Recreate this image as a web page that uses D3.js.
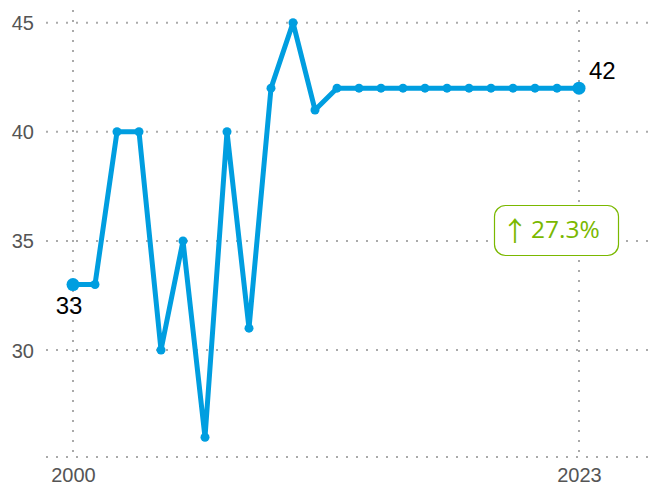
<!DOCTYPE html>
<html>
<head>
<meta charset="utf-8">
<script src="https://cdn.jsdelivr.net/npm/d3@7"></script>
<style>
  html, body { margin: 0; padding: 0; background: #fff; }
  svg { display: block; }
</style>
</head>
<body>
<svg id="chart" width="653" height="493"></svg>
<script>
// Yearly values, 2000–2023
const years = d3.range(2000, 2024);
const values = [33, 33, 40, 40, 30, 35, 26, 40, 31, 42, 45, 41, 42, 42, 42, 42, 42, 42, 42, 42, 42, 42, 42, 42];
const yTicks = [30, 35, 40, 45];
const xTicks = [2000, 2023];

const svg = d3.select("#chart");
const W = 653, H = 493;
const gridLeft = 46, gridTop = 10, plotBottom = 457;

const x = d3.scaleLinear().domain([2000, 2023]).range([73, 579]);
const y = d3.scaleLinear().domain([30, 45]).range([350, 22.7]);

const gridColor = "#aaaaaa";
const lineColor = "#009ee0";
const green = "#7ab800";

// dotted horizontal grid lines + baseline
const grid = svg.append("g");
[...yTicks.map(t => y(t)), plotBottom].forEach(py => {
  grid.append("line")
    .attr("x1", gridLeft).attr("x2", W)
    .attr("y1", py).attr("y2", py)
    .attr("stroke", gridColor).attr("stroke-width", 2)
    .attr("stroke-dasharray", "2,8");
});
// dotted vertical grid lines at first and last year
xTicks.forEach(t => {
  grid.append("line")
    .attr("x1", x(t)).attr("x2", x(t))
    .attr("y1", gridTop).attr("y2", plotBottom)
    .attr("stroke", gridColor).attr("stroke-width", 2)
    .attr("stroke-dasharray", "2,8");
});

// y-axis labels
const yAxis = d3.axisLeft(y).tickValues(yTicks).tickSize(0).tickPadding(0);
svg.append("g")
  .attr("transform", "translate(34,0)")
  .call(yAxis)
  .call(g => g.select(".domain").remove())
  .call(g => g.selectAll("text")
    .attr("font-family", "Liberation Sans, Arial, sans-serif")
    .attr("font-size", 20)
    .attr("fill", "#555")
    .attr("dy", "0.35em"));

// x-axis labels
const xAxis = d3.axisBottom(x).tickValues(xTicks).tickFormat(d3.format("d")).tickSize(0).tickPadding(0);
svg.append("g")
  .attr("transform", "translate(0,468)")
  .call(xAxis)
  .call(g => g.select(".domain").remove())
  .call(g => g.selectAll("text")
    .attr("font-family", "Liberation Sans, Arial, sans-serif")
    .attr("font-size", 20)
    .attr("fill", "#555")
    .attr("dy", "0.71em"));

// series line
const data = years.map((yr, i) => ({ yr, v: values[i] }));
svg.append("path")
  .datum(data)
  .attr("fill", "none")
  .attr("stroke", lineColor)
  .attr("stroke-width", 5)
  .attr("stroke-linejoin", "round")
  .attr("d", d3.line().x(d => x(d.yr)).y(d => y(d.v)));

// markers, larger at both ends
svg.append("g").selectAll("circle")
  .data(data)
  .join("circle")
  .attr("cx", d => x(d.yr))
  .attr("cy", d => y(d.v))
  .attr("r", (d, i) => (i === 0 || i === data.length - 1) ? 6.5 : 4.5)
  .attr("fill", lineColor);

// end value labels
const first = data[0], last = data[data.length - 1];
svg.append("text")
  .attr("x", x(first.yr) - 4).attr("y", y(first.v) + 29)
  .attr("text-anchor", "middle")
  .attr("font-family", "Liberation Sans, Arial, sans-serif")
  .attr("font-size", 24).attr("fill", "#000")
  .text(first.v);
svg.append("text")
  .attr("x", x(last.yr) + 10).attr("y", y(last.v) - 9)
  .attr("text-anchor", "start")
  .attr("font-family", "Liberation Sans, Arial, sans-serif")
  .attr("font-size", 24).attr("fill", "#000")
  .text(last.v);

// change badge
const change = (last.v - first.v) / first.v * 100;
const badge = svg.append("g");
badge.append("rect")
  .attr("x", 494.5).attr("y", 205.5)
  .attr("width", 124).attr("height", 50)
  .attr("rx", 11).attr("ry", 11)
  .attr("fill", "#fff")
  .attr("stroke", green).attr("stroke-width", 1.2);
badge.append("text")
  .attr("x", 501.5)
  .attr("y", 241)
  .attr("font-family", "Noto Sans CJK SC, sans-serif")
  .attr("font-size", 27)
  .attr("fill", green)
  .text("\u2191");
badge.append("text")
  .attr("x", 531)
  .attr("y", 238)
  .attr("font-family", "Open Sans, Noto Sans, sans-serif")
  .attr("font-size", 24.5)
  .attr("fill", green)
  .text(change.toFixed(1) + "%");
</script>
</body>
</html>
